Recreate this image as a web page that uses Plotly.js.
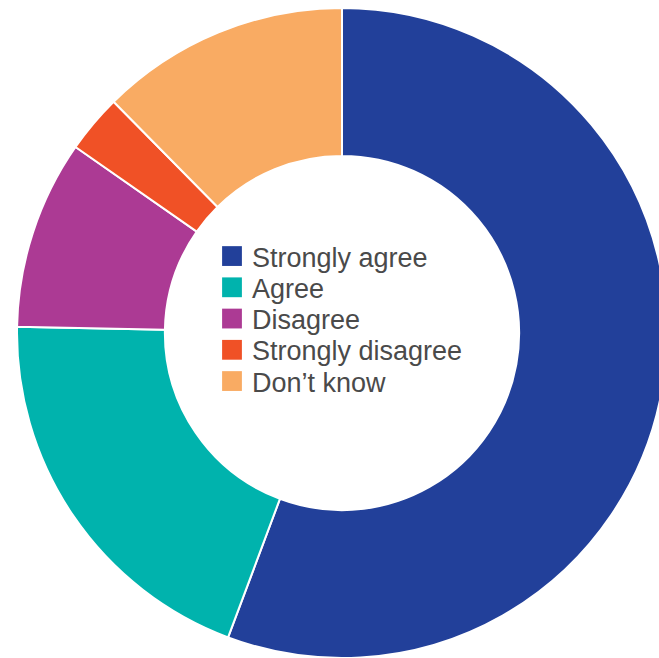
<!DOCTYPE html>
<html><head><meta charset="utf-8">
<script src="https://cdn.plot.ly/plotly-3.0.1.min.js"></script>
<style>html,body{margin:0;padding:0;overflow:hidden;background:#fff}</style>
</head><body>
<div id="chart" style="width:680px;height:658px"></div>
<script>
const labels = ["Strongly agree", "Agree", "Disagree", "Strongly disagree", "Don’t know"];
const values = [55.7, 19.6, 9.4, 2.9, 12.4];
const colors = ["#22409A", "#00B3AD", "#AC3A94", "#F05126", "#F9AB63"];

const W = 680, H = 658;
const data = [{
  type: "pie",
  labels: labels,
  values: values,
  sort: false,
  direction: "clockwise",
  rotation: 0,
  hole: 0.545,
  textinfo: "none",
  hoverinfo: "none",
  marker: {colors: colors, line: {color: "#ffffff", width: 2}},
  domain: {x: [17 / W, 667 / W], y: [0, 650 / H]}
}];
const layout = {
  width: W, height: H,
  margin: {l: 0, r: 0, t: 0, b: 0},
  paper_bgcolor: "#ffffff",
  showlegend: true,
  legend: {
    x: 212 / W, xanchor: "left",
    y: 1 - 232 / H, yanchor: "top",
    bgcolor: "rgba(0,0,0,0)",
    font: {family: "Liberation Sans, Arial, sans-serif", size: 27, color: "#4a4a4a"},
    traceorder: "normal"
  }
};
Plotly.newPlot("chart", data, layout, {staticPlot: true, displayModeBar: false}).then(function (gd) {
  const items = gd.querySelectorAll(".legend .traces");
  let y0 = null;
  items.forEach(function (el, i) {
    const t = el.getAttribute("transform") || "";
    const m = t.match(/translate\(([-\d.]+)[ ,]+([-\d.]+)\)/);
    if (!m) return;
    const x = parseFloat(m[1]), y = parseFloat(m[2]);
    if (y0 === null) y0 = y;
    el.setAttribute("transform", "translate(" + x + "," + (y0 + i * 31.25) + ")");
  });
  gd.querySelectorAll(".legend .legendpoints path").forEach(function (p) {
    const t = p.getAttribute("transform") || "";
    p.setAttribute("transform", t + " scale(1.65)");
    p.style.strokeWidth = "0";
  });
});
</script>
</body></html>
